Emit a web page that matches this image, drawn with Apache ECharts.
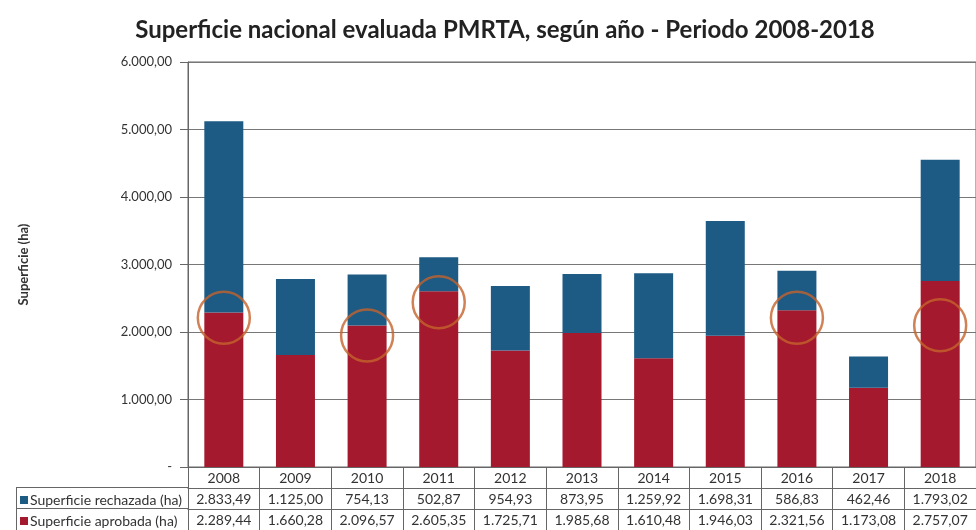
<!DOCTYPE html>
<html>
<head>
<meta charset="utf-8">
<script src="https://cdn.jsdelivr.net/npm/echarts@6/dist/echarts.min.js"></script>
<style>
  html, body { margin: 0; padding: 0; background: #fff; }
  #main { width: 976px; height: 530px; }
</style>
</head>
<body>
<div id="main"></div>
<script>
var years = ['2008', '2009', '2010', '2011', '2012', '2013', '2014', '2015', '2016', '2017', '2018'];
var rechazada = [2833.49, 1125.00, 754.13, 502.87, 954.93, 873.95, 1259.92, 1698.31, 586.83, 462.46, 1793.02];
var aprobada = [2289.44, 1660.28, 2096.57, 2605.35, 1725.71, 1985.68, 1610.48, 1946.03, 2321.56, 1173.08, 2757.07];
// orange rings drawn over some bars
var ringYears = ['2008', '2010', '2011', '2016', '2018'];
var ringValues = [2210, 1950, 2440, 2210, 2100];

var font = 'Lato';
var lineCol = '#666';

function fmt(v) {
    if (v === 0) return '-';
    var p = v.toFixed(2).split('.');
    return p[0].replace(/\B(?=(\d{3})+(?!\d))/g, '.') + ',' + p[1];
}

function tableAxis(offset, values) {
    return {
        type: 'category',
        data: years,
        position: 'bottom',
        offset: offset,
        axisLine: { show: true, lineStyle: { color: lineCol } },
        axisTick: { show: true, length: 21, interval: 0, lineStyle: { color: lineCol } },
        axisLabel: {
            interval: 0, hideOverlap: false,
            margin: 4, fontFamily: font, fontSize: 14, color: '#333',
            formatter: function (v, i) { return values ? fmt(values[i]) : v; }
        }
    };
}

function legendRow(name, top) {
    return {
        left: 15, top: top, itemWidth: 8, itemHeight: 8, itemGap: 0, icon: 'rect',
        data: [name],
        textStyle: { fontFamily: font, fontSize: 14, color: '#333', padding: [0, 0, 0, -3] }
    };
}

var option = {
    backgroundColor: '#fff',
    title: {
        text: 'Superficie nacional evaluada PMRTA, según año - Periodo 2008-2018',
        left: 500, textAlign: 'center', top: 13,
        textStyle: { fontFamily: font, fontSize: 24, fontWeight: 'bold', color: '#222' }
    },
    legend: [
        legendRow('Superficie rechazada (ha)', 488),
        legendRow('Superficie aprobada (ha)', 509)
    ],
    grid: { left: 188, right: -12, top: 62, bottom: 63, show: true, borderColor: lineCol, borderWidth: 1 },
    xAxis: [tableAxis(0, null), tableAxis(21, rechazada), tableAxis(42, aprobada)],
    yAxis: {
        type: 'value', min: 0, max: 6000, interval: 1000,
        name: 'Superficie (ha)', nameLocation: 'middle', nameGap: 158,
        nameTextStyle: { fontFamily: font, fontSize: 13, fontWeight: 'bold', color: '#333' },
        axisLine: { show: true, lineStyle: { color: lineCol } },
        axisTick: { show: true, length: 8, lineStyle: { color: lineCol } },
        axisLabel: { margin: 16, fontFamily: font, fontSize: 13, color: '#333', formatter: fmt },
        splitLine: { lineStyle: { color: '#777' } }
    },
    graphic: [
        { type: 'line', shape: { x1: 16, y1: 487.5, x2: 188, y2: 487.5 }, style: { stroke: lineCol } },
        { type: 'line', shape: { x1: 16, y1: 508.5, x2: 188, y2: 508.5 }, style: { stroke: lineCol } },
        { type: 'line', shape: { x1: 16.5, y1: 487, x2: 16.5, y2: 530 }, style: { stroke: lineCol } }
    ],
    series: [
        {
            name: 'Superficie aprobada (ha)', type: 'bar', stack: 'sup',
            barWidth: 39, data: aprobada, itemStyle: { color: '#a5192e' }
        },
        {
            name: 'Superficie rechazada (ha)', type: 'bar', stack: 'sup',
            barWidth: 39, data: rechazada, itemStyle: { color: '#1d5b85' }
        },
        {
            type: 'scatter', symbol: 'circle', symbolSize: 52, z: 5, silent: true,
            data: ringYears.map(function (y, i) { return [y, ringValues[i]]; }),
            itemStyle: { color: 'rgba(0,0,0,0)', borderColor: '#c4632c', borderWidth: 2.5 }
        }
    ]
};

var chart = echarts.init(document.getElementById('main'));
chart.setOption(option);
</script>
</body>
</html>
